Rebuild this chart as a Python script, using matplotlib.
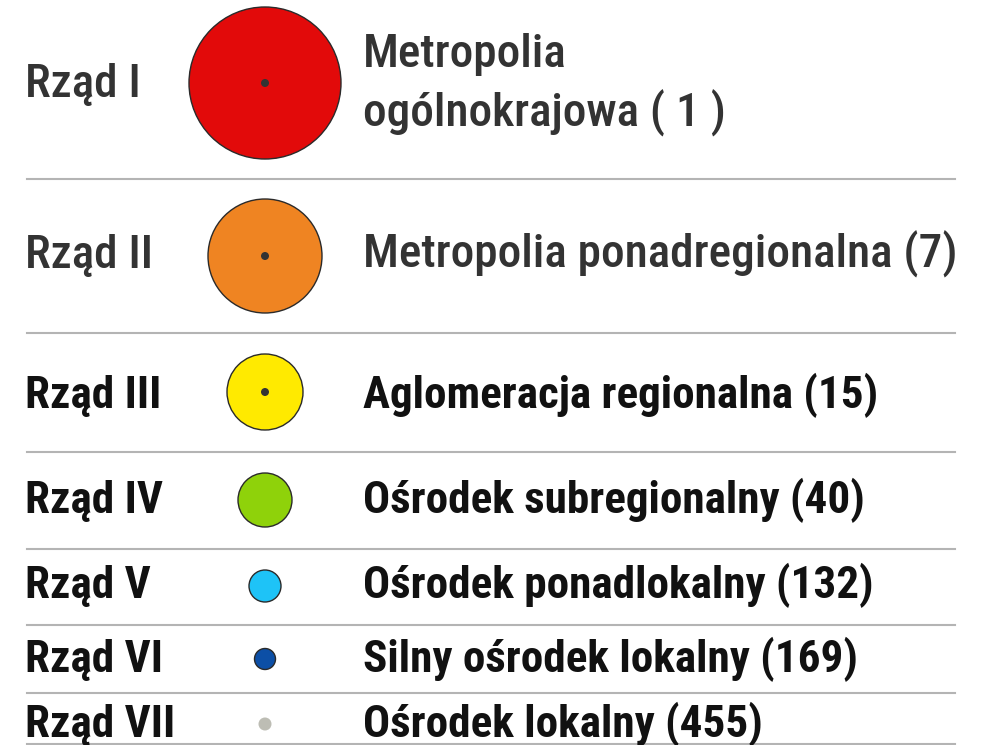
import matplotlib
matplotlib.use('Agg')
import matplotlib.pyplot as plt
from matplotlib.patches import Circle

# data
ranks = ['Rząd I', 'Rząd II', 'Rząd III', 'Rząd IV', 'Rząd V', 'Rząd VI', 'Rząd VII']
names = ['Metropolia\nogólnokrajowa', 'Metropolia ponadregionalna', 'Aglomeracja regionalna',
         'Ośrodek subregionalny', 'Ośrodek ponadlokalny', 'Silny ośrodek lokalny', 'Ośrodek lokalny']
counts = [1, 7, 15, 40, 132, 169, 455]
count_fmt = ['( {} )', '({})', '({})', '({})', '({})', '({})', '({})']
colors = ['#e20a0a', '#ef8422', '#ffea00', '#8fd20a', '#1ec3f7', '#0c4fa6', '#bdbdb4']
radius = [76, 57, 38, 27, 16, 10.5, 6.5]
has_dot = [True, True, True, False, False, False, False]

# layout (pixels)
W, H = 981, 745
baseline = [97, 268, 408, 513, 598, 672, 737]
circle_y = [83, 256, 392, 500, 586, 659, 724]
sep_y = [179, 333, 452, 549, 625, 693, 744]
cx = 265

plt.rcParams['font.family'] = ['Roboto Condensed', 'Roboto', 'DejaVu Sans']

fig = plt.figure(figsize=(W / 100, H / 100), dpi=100)
ax = fig.add_axes([0, 0, 1, 1])
ax.set_xlim(0, W)
ax.set_ylim(H, 0)
ax.set_aspect('equal')
ax.axis('off')

for y in sep_y:
    ax.plot([27, 955], [y, y], color='#b4b4b4', lw=1.5)

for i in range(len(ranks)):
    col = '#333333' if i < 2 else '#111111'
    wt = 'medium' if i < 2 else 'bold'
    fs = 34 if i < 2 else 32.5
    kw = dict(fontsize=fs, color=col, weight=wt, va='baseline', stretch='condensed')
    ax.text(25, baseline[i], ranks[i], **kw)
    ec = 'none' if i == 6 else '#2a2a2a'
    ax.add_patch(Circle((cx, circle_y[i]), radius[i], facecolor=colors[i], edgecolor=ec, lw=1.0))
    if has_dot[i]:
        ax.add_patch(Circle((cx, circle_y[i]), 4, facecolor='#333333', edgecolor='none'))
    label = names[i] + ' ' + count_fmt[i].format(counts[i])
    if i == 0:
        top, bottom = label.split('\n')
        ax.text(363, 67, top, **kw)
        ax.text(363, 127, bottom, **kw)
    else:
        ax.text(363, baseline[i], label, **kw)

fig.savefig('out.png', dpi=100, facecolor='white')
